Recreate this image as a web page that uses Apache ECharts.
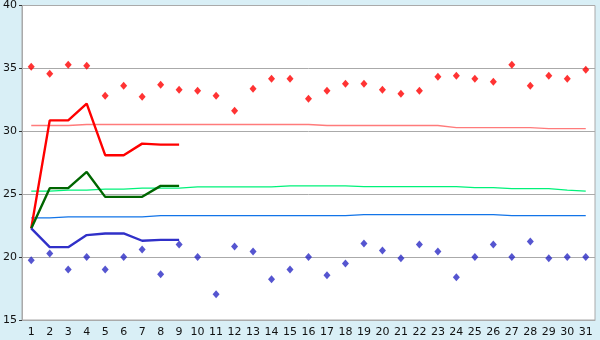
<!DOCTYPE html>
<html>
<head>
<meta charset="utf-8">
<script src="https://cdn.jsdelivr.net/npm/echarts@6/dist/echarts.min.js"></script>
<style>
html,body{margin:0;padding:0;background:#d9eff6;}
#c{width:600px;height:340px;}
</style>
</head>
<body>
<div id="c"></div>
<script>
var days = ['1','2','3','4','5','6','7','8','9','10','11','12','13','14','15','16','17','18','19','20','21','22','23','24','25','26','27','28','29','30','31'];
var yTicks = [15, 20, 25, 30, 35, 40];

var highPoints = [35.13,34.58,35.29,35.21,32.83,33.62,32.75,33.71,33.31,33.23,32.83,31.64,33.39,34.18,34.18,32.59,33.23,33.78,33.78,33.31,32.99,33.23,34.34,34.42,34.18,33.94,35.29,33.62,34.42,34.18,34.90];
var lowPoints = [19.74,20.29,19.02,20.00,19.02,20.00,20.61,18.63,21.01,20.00,17.04,20.85,20.45,18.23,19.02,20.00,18.55,19.50,21.09,20.53,19.90,21.01,20.45,18.39,20.00,21.01,20.00,21.25,19.90,20.00,20.00];

var normHigh = [30.46,30.46,30.46,30.54,30.54,30.54,30.54,30.54,30.54,30.54,30.54,30.54,30.54,30.54,30.54,30.54,30.46,30.46,30.46,30.46,30.46,30.46,30.46,30.30,30.30,30.30,30.30,30.30,30.22,30.22,30.22];
var normMean = [25.24,25.24,25.32,25.32,25.40,25.40,25.48,25.48,25.48,25.58,25.58,25.58,25.58,25.58,25.66,25.66,25.66,25.66,25.60,25.60,25.60,25.60,25.60,25.60,25.53,25.53,25.45,25.45,25.45,25.32,25.24];
var normLow = [23.12,23.12,23.20,23.20,23.20,23.20,23.20,23.29,23.29,23.29,23.29,23.29,23.29,23.29,23.29,23.29,23.29,23.29,23.38,23.38,23.38,23.38,23.38,23.38,23.38,23.38,23.30,23.30,23.30,23.30,23.30];

var avgHigh = [22.28,30.87,30.87,32.20,28.10,28.10,29.02,28.94,28.94];
var avgMean = [22.28,25.48,25.48,26.77,24.79,24.79,24.79,25.66,25.66];
var avgLow = [22.28,20.79,20.79,21.75,21.88,21.88,21.30,21.37,21.37];

var chart = echarts.init(document.getElementById('c'), null, {renderer:'canvas'});
function thin(data, color){
  return {type:'line', data:data, symbol:'none', lineStyle:{color:color, width:1.3}, z:2, animation:false};
}
function thick(data, color){
  return {type:'line', data:data, symbol:'none', lineStyle:{color:color, width:2.4}, z:3, animation:false};
}
chart.setOption({
  backgroundColor:'#d9eff6',
  animation:false,
  grid:{left:20, top:5, right:5, bottom:20, show:true, backgroundColor:'#ffffff', borderColor:'#aaaaaa', borderWidth:1},
  xAxis:{type:'category', data:days, boundaryGap:true,
    axisLine:{lineStyle:{color:'#aaaaaa'}},
    axisTick:{alignWithLabel:true, length:5, lineStyle:{color:'#333'}},
    axisLabel:{color:'#111', fontFamily:'DejaVu Sans', fontSize:11, margin:7, interval:0}},
  yAxis:{type:'value', min:yTicks[0], max:yTicks[yTicks.length-1], interval:5,
    axisLine:{show:true, lineStyle:{color:'#aaaaaa'}},
    axisTick:{show:true, length:3, lineStyle:{color:'#333'}},
    splitLine:{lineStyle:{color:'#aaaaaa'}},
    axisLabel:{color:'#111', fontFamily:'DejaVu Sans', fontSize:11, margin:5}},
  series:[
    thin(normHigh,'#ff7b7b'),
    thin(normMean,'#00f27a'),
    thin(normLow,'#1274e8'),
    thick(avgHigh,'#ff0000'),
    thick(avgMean,'#006600'),
    thick(avgLow,'#3030c8'),
    {type:'scatter', data:highPoints, symbol:'diamond', symbolSize:[7,8], itemStyle:{color:'#ff0000'}, z:4},
    {type:'scatter', data:lowPoints, symbol:'diamond', symbolSize:[7,8], itemStyle:{color:'#2a2ac4'}, z:4}
  ]
});
</script>
</body>
</html>
